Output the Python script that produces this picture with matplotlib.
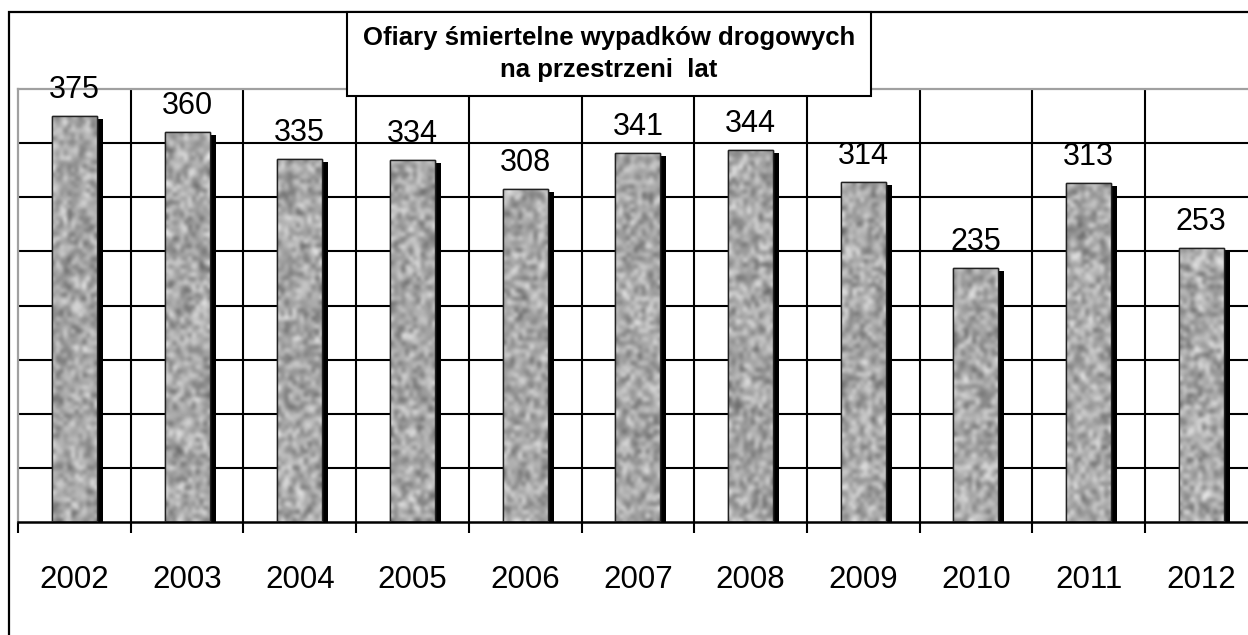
import numpy as np
import matplotlib
matplotlib.use("Agg")
import matplotlib.pyplot as plt
from matplotlib.patches import Rectangle
import matplotlib.transforms as mtransforms

years = ["2002", "2003", "2004", "2005", "2006", "2007", "2008", "2009", "2010", "2011", "2012"]
deaths = [375, 360, 335, 334, 308, 341, 344, 314, 235, 313, 253]
title_lines = ["Ofiary śmiertelne wypadków drogowych", "na przestrzeni  lat"]

plt.rcParams['font.family'] = ['Liberation Sans', 'DejaVu Sans']

W, H = 1248, 635
fig = plt.figure(figsize=(W / 100, H / 100), dpi=100)

# plot area (extends past right edge like the reference)
L, R, B, T = 18 / W, 1257.7 / W, (H - 522) / H, (H - 89) / H
ax = fig.add_axes([L, B, R - L, T - B])

n = len(years)
centers = np.arange(n) + 0.5
bw = 0.4

ax.set_xlim(0, n)
ax.set_ylim(0, 400)

# grid
for yv in range(50, 400, 50):
    ax.axhline(yv, color='black', lw=1.5, zorder=0.5)
for xv in range(1, n + 1):
    ax.axvline(xv, color='black', lw=1.5, zorder=0.5)

# shadows
shadow_off = mtransforms.ScaledTranslation(6 / 100, -3 / 100, fig.dpi_scale_trans)
sh = ax.bar(centers, deaths, width=bw, color='black', zorder=1)
for p in sh:
    p.set_transform(ax.transData + shadow_off)

# bars with granite-like texture
bars = ax.bar(centers, deaths, width=bw, color='#b0b0b0', edgecolor='#222222', linewidth=1.0, zorder=2)
rng = np.random.default_rng(3)
for b, c, v in zip(bars, centers, deaths):
    rows = int(v * 1.08 / 4)
    tex = rng.random((rows, 12)) * 0.6 + rng.random((rows, 12)) * 0.4
    im = ax.imshow(tex, cmap='gray', vmin=-0.55, vmax=1.05, extent=(c - bw / 2, c + bw / 2, 0, v),
                   aspect='auto', interpolation='bicubic', zorder=2.5)
    im.set_clip_path(b)
    ax.bar([c], [v], width=bw, fill=False, edgecolor='#222222', linewidth=1.0, zorder=3)

ax.set_xlim(0, n)
ax.set_ylim(0, 400)

# value labels
for c, v in zip(centers, deaths):
    ax.annotate(str(v), (c, v), xytext=(0, 13), textcoords='offset points',
                ha='center', va='baseline', fontsize=22, color='black', zorder=4)

# spines
for s in ['top', 'left', 'right']:
    ax.spines[s].set_color('#a0a0a0')
    ax.spines[s].set_linewidth(1.6)
ax.spines['bottom'].set_color('black')
ax.spines['bottom'].set_linewidth(1.8)

ax.set_yticks([])
ax.set_xticks(np.arange(0, n + 1))
ax.set_xticklabels([])
ax.tick_params(axis='x', which='major', length=8, width=1.5, color='black', direction='out')
ax.set_xticks(centers, minor=True)
ax.set_xticklabels(years, minor=True, fontsize=22.5)
ax.tick_params(axis='x', which='minor', length=0, pad=31)

# outer frame
fig.add_artist(Rectangle((9 / W, -0.1), 1.2, (H - 12) / H + 0.1, transform=fig.transFigure,
                         fill=False, edgecolor='black', linewidth=1.6, zorder=-1))

# title box
fig.add_artist(Rectangle((347 / W, 1 - 96 / H), 524 / W, 84 / H, transform=fig.transFigure,
                         facecolor='white', edgecolor='black', linewidth=1.5, zorder=5))
fig.text(609 / W, 1 - 38 / H, title_lines[0], ha='center', va='center', fontsize=18.5,
         fontweight='bold', zorder=6)
fig.text(609 / W, 1 - 70 / H, title_lines[1], ha='center', va='center', fontsize=18.5,
         fontweight='bold', zorder=6)

fig.savefig('out.png', dpi=100)
